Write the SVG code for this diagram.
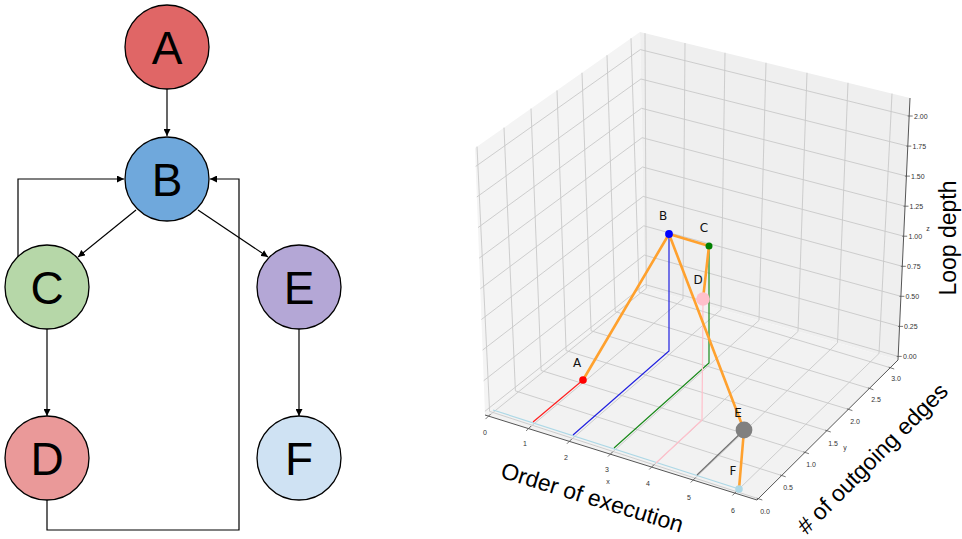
<svg xmlns="http://www.w3.org/2000/svg" width="962" height="539" viewBox="0 0 962 539">
<style>
.node circle{stroke:#000;stroke-width:1.3}
.nl{font-family:"Liberation Sans",Arial,sans-serif;font-size:46px;text-anchor:middle;fill:#000}
.edge{fill:none;stroke:#000;stroke-width:1.2}
.grid{fill:none;stroke:#c8c8c8;stroke-width:0.9}
.axis{fill:none;stroke:#555;stroke-width:1}
.tick{fill:none;stroke:#555;stroke-width:0.8}
.tl{font-family:"Liberation Sans",Arial,sans-serif;font-size:7px;fill:#333}
.tlc{font-family:"Liberation Sans",Arial,sans-serif;font-size:7px;fill:#333;text-anchor:middle}
.lab{font-family:"DejaVu Sans","Liberation Sans",sans-serif;font-size:12px;fill:#111;text-anchor:middle}
.big{font-family:"Liberation Sans",Arial,sans-serif;font-size:23px;fill:#000;text-anchor:middle}
.orange{fill:none;stroke:#ffa12e;stroke-width:2.6;stroke-linecap:round;stroke-linejoin:round}
.dl{fill:none;stroke-width:1.2}
</style>
<defs>
<marker id="arr" viewBox="0 0 10 10" refX="10" refY="5" markerWidth="7" markerHeight="7" markerUnits="userSpaceOnUse" orient="auto">
<path d="M0,0 L10,5 L0,10 z" fill="#000"/>
</marker>
</defs>

<g id="connectors">
<path class="edge" d="M167,89 V136" marker-end="url(#arr)"/>
<path class="edge" d="M136,210 L78,257" marker-end="url(#arr)"/>
<path class="edge" d="M198,210 L268,257" marker-end="url(#arr)"/>
<path class="edge" d="M18,257 V179 H124" marker-end="url(#arr)"/>
<path class="edge" d="M47,329 V416" marker-end="url(#arr)"/>
<path class="edge" d="M299,329 V416" marker-end="url(#arr)"/>
<path class="edge" d="M47,500 V530 H239 V179 H210" marker-end="url(#arr)"/>
</g>

<g id="node-A" class="node"><circle cx="167" cy="47" r="42" fill="#e06666"/><text class="nl" x="167" y="63.5">A</text></g>
<g id="node-B" class="node"><circle cx="167" cy="179" r="42" fill="#6fa8dc"/><text class="nl" x="167" y="195.5">B</text></g>
<g id="node-C" class="node"><circle cx="47" cy="287" r="42" fill="#b6d7a8"/><text class="nl" x="47" y="303.5">C</text></g>
<g id="node-E" class="node"><circle cx="299" cy="287" r="42" fill="#b4a7d6"/><text class="nl" x="299" y="303.5">E</text></g>
<g id="node-D" class="node"><circle cx="47" cy="458" r="42" fill="#ea9999"/><text class="nl" x="47" y="474.5">D</text></g>
<g id="node-F" class="node"><circle cx="299" cy="458" r="42" fill="#cfe2f3"/><text class="nl" x="299" y="474.5">F</text></g>

<g id="plot3d">
<polygon points="485,415 645,288 640,32 475,148" fill="#f4f4f4"/>
<polygon points="645,288 898,360 910,98 640,32" fill="#efefef"/>
<polygon points="485,415 757,500 898,360 645,288" fill="#f2f2f2"/>
<path class="grid" d="M488.5,416.1 L646.3,288.4 M529.1,428 L683,298.8 M569.9,440.8 L721,309.6 M610.9,453.6 L759,320.4 M652.2,466.5 L798,331.5 M693.7,479.5 L837.5,342.8 M735.4,492.5 L879,353.5"/>
<path class="grid" d="M489.6,411.4 L758.3,498.7 M515.4,390.9 L781.7,475.5 M541.1,370.5 L804.9,452.4 M566.1,350.6 L826.8,430.7 M591.1,330.8 L848.4,409.3 M615.2,311.6 L869.4,388.4 M639.1,292.3 L890.2,367.7"/>
<path class="grid" d="M646.3,288.4 L645,33.2 M683,298.8 L685,43 M721,309.6 L725,52.8 M759,320.4 L766,62.8 M798,331.5 L807,72.8 M837.5,342.8 L848,82.8 M879,353.5 L892,93.6"/>
<path class="grid" d="M644.9,284.5 L898.2,356.4 M644.4,255.1 L899.5,326.4 M643.8,225.8 L900.9,296.3 M643.2,196.4 L902.3,266.3 M642.6,167 L903.7,236.2 M642.1,137.7 L905,206.2 M641.5,108.3 L906.4,176.1 M640.9,79 L907.8,146.1 M640.3,49.6 L909.2,116"/>
<path class="grid" d="M489.6,411.4 L477,146.6 M515.4,390.9 L504,127.6 M541.1,370.5 L531,108.6 M566.1,350.6 L557,90.4 M591.1,330.8 L582,72.8 M615.2,311.6 L607,55.2 M639.1,292.3 L631,38.3"/>
<path class="grid" d="M484.9,411.3 L644.9,284.5 M483.7,380.7 L644.4,255.1 M482.6,350.1 L643.8,225.8 M481.4,319.5 L643.2,196.4 M480.3,288.8 L642.6,167 M479.1,258.2 L642.1,137.7 M478,227.6 L641.5,108.3 M476.8,197 L640.9,79 M475.7,166.4 L640.3,49.6"/>

<path class="axis" d="M485,415 L757,500 L898,360 L910,98"/>
<path class="tick" d="M490.5,414.1 L485.5,419.1 M531.1,426 L526.1,431 M571.9,438.8 L566.9,443.8 M612.9,451.6 L607.9,456.6 M654.2,464.5 L649.2,469.5 M695.7,477.5 L690.7,482.5 M737.4,490.5 L732.4,495.5"/>
<path class="tick" d="M756.8,498.2 L762.3,500 M780.2,475 L785.7,476.8 M803.4,451.9 L808.9,453.7 M825.3,430.2 L830.8,432 M846.9,408.8 L852.4,410.6 M867.9,387.9 L873.4,389.7 M888.7,367.2 L894.2,369"/>
<path class="tick" d="M896.7,356.4 L901.7,356.4 M898,326.4 L903,326.4 M899.4,296.3 L904.4,296.3 M900.8,266.3 L905.8,266.3 M902.2,236.2 L907.2,236.2 M903.5,206.2 L908.5,206.2 M904.9,176.1 L909.9,176.1 M906.3,146.1 L911.3,146.1 M907.7,116 L912.7,116"/>

<text class="tlc" x="485" y="434.5">0</text>
<text class="tlc" x="525" y="445.5">1</text>
<text class="tlc" x="566" y="459.5">2</text>
<text class="tlc" x="607" y="471.5">3</text>
<text class="tlc" x="648" y="485.5">4</text>
<text class="tlc" x="689" y="499.5">5</text>
<text class="tlc" x="733" y="512.5">6</text>
<text class="tlc" x="608" y="483.5">x</text>
<text class="tlc" x="765" y="513.5">0.0</text>
<text class="tlc" x="788" y="489.5">0.5</text>
<text class="tlc" x="811" y="466.5">1.0</text>
<text class="tlc" x="833" y="445.5">1.5</text>
<text class="tlc" x="855" y="423.5">2.0</text>
<text class="tlc" x="876" y="401.5">2.5</text>
<text class="tlc" x="896" y="380.5">3.0</text>
<text class="tlc" x="845" y="449.5">y</text>
<text class="tl" x="903" y="358.5">0.00</text>
<text class="tl" x="904" y="328.5">0.25</text>
<text class="tl" x="905.5" y="298.5">0.50</text>
<text class="tl" x="907" y="268.5">0.75</text>
<text class="tl" x="908.5" y="238.5">1.00</text>
<text class="tl" x="909.5" y="208.5">1.25</text>
<text class="tl" x="911" y="178.5">1.50</text>
<text class="tl" x="912.5" y="148.5">1.75</text>
<text class="tl" x="914" y="118.5">2.00</text>
<text class="tlc" x="928" y="230.5">z</text>

<path class="dl" stroke="#add8e6" d="M493,410 L739,489"/>
<path class="dl" stroke="#ff2020" d="M533,422 L583,380"/>
<path class="dl" stroke="#2020e0" d="M573,435 L669,351 L669,234"/>
<path class="dl" stroke="#1a8a1a" d="M614,448 L709,363 L709,246"/>
<path class="dl" stroke="#ffc0cb" d="M656,463 L702,420 L703,299"/>
<path class="dl" stroke="#707070" d="M697,475 L744,430"/>
<path class="orange" d="M583,380 L669,234 L709,246 L703,299 M669,234 L744,430 L739,489"/>

<circle cx="583" cy="380" r="3.8" fill="#ff0000"/>
<circle cx="669" cy="234" r="3.9" fill="#0000ff"/>
<circle cx="709" cy="246" r="3.5" fill="#008000"/>
<circle cx="703" cy="299" r="6.8" fill="#ffc0cb"/>
<circle cx="744" cy="430" r="8.4" fill="#808080"/>
<circle cx="739" cy="489" r="3.8" fill="#add8e6"/>

<text class="lab" x="577" y="367">A</text>
<text class="lab" x="663" y="219.5">B</text>
<text class="lab" x="704" y="231.5">C</text>
<text class="lab" x="698" y="283.5">D</text>
<text class="lab" x="738" y="416.5">E</text>
<text class="lab" x="733" y="474.5">F</text>

<text class="big" transform="translate(590,505) rotate(17)">Order of execution</text>
<text class="big" transform="translate(878,464) rotate(-45)"># of outgoing edges</text>
<text class="big" transform="translate(955.5,238) rotate(-90)">Loop depth</text>
</g>
</svg>
